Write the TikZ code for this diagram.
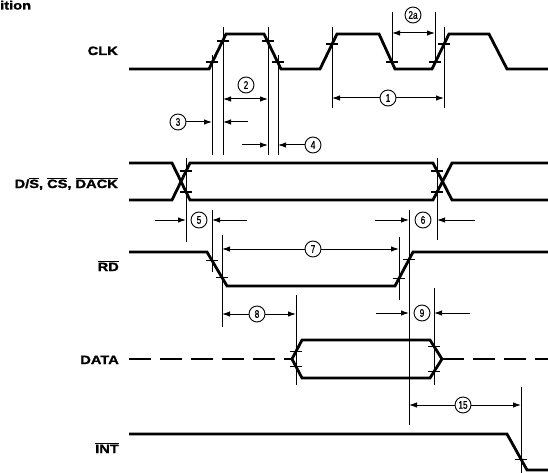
\documentclass[tikz,border=0pt]{standalone}
\usepackage{fontspec}
\setmainfont{Liberation Sans}
\newfontfamily\sigfont[FakeStretch=1.22, FakeBold=1.5]{Liberation Sans}
\newfontfamily\numfont[FakeStretch=0.75, FakeBold=0.8]{Liberation Sans}
\usetikzlibrary{arrows.meta}

\begin{document}
\begin{tikzpicture}[
    x=1pt, y=-1pt,
    >={Latex[length=8pt,width=5.5pt]},
    sig/.style={line width=2.8pt, line join=miter},
    bus/.style={sig, dash pattern=on 22pt off 9pt},
    ref/.style={line width=1pt},
    tk/.style={line width=1.3pt},
    num/.style={draw, circle, line width=0.9pt, minimum size=16pt, inner sep=0pt, font=\numfont\fontsize{11}{11}\selectfont},
    lbl/.style={anchor=base east, inner sep=0pt, font=\sigfont\bfseries\fontsize{12}{12}\selectfont}
]
\useasboundingbox (0,0) rectangle (548,473);

\node[anchor=base west, inner sep=0pt, font=\sigfont\bfseries\fontsize{12}{12}\selectfont] (title) at (0,9.5) {ition};

% signal names
\node[lbl] (clk) at (118,55) {CLK};
\node[lbl] (ds) at (118,188) {D/$\overline{\hbox{S}}$,\hspace{4pt}$\overline{\hbox{CS}}$,\hspace{4pt}$\overline{\hbox{DACK}}$};
\node[lbl] (rd) at (119,271) {$\overline{\hbox{RD}}$};
\node[lbl] (data) at (119,364) {DATA};
\node[lbl] (int) at (119,453) {$\overline{\hbox{INT}}$};

% waveforms
\draw[sig] (129,69) -- (209,69) -- (226,34) -- (264,34) -- (281,69) -- (320,69) -- (337,34) -- (379,34) -- (395,69) -- (432,69) -- (449,34) -- (489,34) -- (507,69) -- (548,69);
\draw[sig] (129,163) -- (172,163) -- (190,200) -- (433,200) -- (452,163) -- (548,163);
\draw[sig] (129,200) -- (172,200) -- (190,163) -- (433,163) -- (452,200) -- (548,200);
\draw[sig] (129,252) -- (207,252) -- (227,286) -- (395,286) -- (413,252) -- (548,252);
\draw[bus] (129,359) -- (292,359);
\draw[sig] (292,359) -- (302,340) -- (430,340) -- (442,359) -- (430,378) -- (302,378) -- cycle;
\draw[bus] (442,359) -- (548,359);
\draw[sig] (129,434) -- (507,434) -- (527,470) -- (548,470);

% threshold marks
\foreach \x/\y in {212/62, 223/41, 268/41, 278/62, 332/44, 444/44, 392/62, 435/62,
                   186/171, 186/192, 437/171, 437/192, 212/260.5, 222/277.5, 399/278.4, 409/259.6,
                   296/351.4, 296/366.6, 434/346.3, 434/371.7, 521/459.2}
    \draw[tk] ({\x-6},\y) -- ({\x+6},\y);

% reference lines
\foreach \x/\a/\b in {212/55/155, 223/27/155, 268/27/155, 278/55/155, 332/27/108, 444/27/108,
                      392/12/64, 435/12/64, 186/158/242, 437/158/240, 212/210/272, 222/235/327,
                      399/237/300, 409/210/425, 296/295/385, 434/288/385, 521/387/473}
    \draw[ref] (\x,\a) -- (\x,\b);

% timing parameters
\node[num] (c1) at (388,98) {1};
\node[num] (c2) at (246,85) {2};
\node[num] (c2a) at (413,15) {2a};
\node[num] (c3) at (178,122) {3};
\node[num] (c4) at (313,145) {4};
\node[num] (c5) at (199,220) {5};
\node[num] (c6) at (423,220) {6};
\node[num] (c7) at (313,249) {7};
\node[num] (c8) at (257,314) {8};
\node[num] (c9) at (422,313) {9};
\node[num] (c15) at (463,405) {15};

\draw[ref, ->] (c1) -- (332,98);
\draw[ref, ->] (c1) -- (444,98);
\draw[ref, <->] (223,99) -- (268,99);
\draw[ref, <->] (392,33) -- (435,33);
\draw[ref, ->] (c3) -- (212,122);
\draw[ref, ->] (248,122) -- (223,122);
\draw[ref, ->] (c4) -- (278,145);
\draw[ref, ->] (242,145) -- (268,145);
\draw[ref, ->] (155,220) -- (186,220);
\draw[ref, ->] (247,220) -- (212,220);
\draw[ref, ->] (375,220) -- (409,220);
\draw[ref, ->] (475,220) -- (437,220);
\draw[ref, ->] (c7) -- (222,249);
\draw[ref, ->] (c7) -- (399,249);
\draw[ref, ->] (c8) -- (222,314);
\draw[ref, ->] (c8) -- (296,314);
\draw[ref, ->] (376,313) -- (409,313);
\draw[ref, ->] (470,313) -- (434,313);
\draw[ref, ->] (c15) -- (409,405);
\draw[ref, ->] (c15) -- (521,405);
\end{tikzpicture}
\end{document}
